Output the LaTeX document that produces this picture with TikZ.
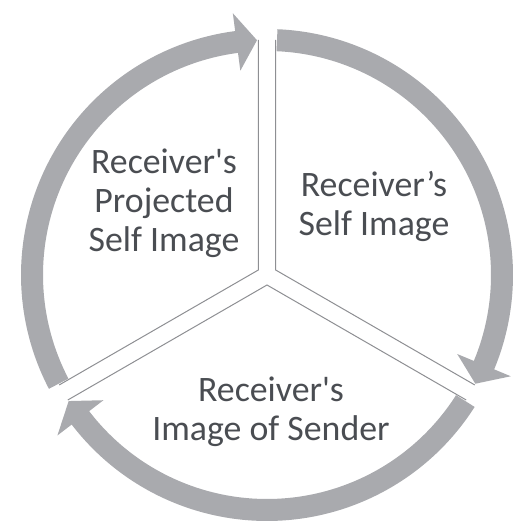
\documentclass[tikz,border=0pt]{standalone}
\usepackage{fontspec}
\setmainfont{Carlito}
\usetikzlibrary{calc}
\begin{document}
\begin{tikzpicture}[x=1pt,y=1pt,
  ringcol/.style={fill=ringgray},
  edgeline/.style={draw=edgegray,line width=1pt},
  label/.style={text=textgray,align=center,inner sep=0pt,
    font=\fontsize{35.8}{39}\selectfont}]
\definecolor{ringgray}{HTML}{A9AAAE}
\definecolor{edgegray}{HTML}{8E8F93}
\definecolor{textgray}{HTML}{4A4D52}
\useasboundingbox (0,0) rectangle (516,529);

% curved arrow segment of the ring, clockwise from #1 to #2 (degrees)
\newcommand\ringarrow[2]{%
  \pgfmathsetmacro\headbase{#2+5}%
  \fill[ringcol] (#1:246pt) arc[start angle=#1, end angle=\headbase, radius=246pt]
    -- (\headbase:264pt) -- (#2:235pt) -- (\headbase:206pt)
    -- (\headbase:224pt) arc[start angle=\headbase, end angle=#1, radius=224pt]
    -- cycle;}

\begin{scope}[shift={(267pt,254pt)}]
  % the three exploded wedges, outlined on their straight sides
  \coordinate (vl) at (150:10pt);
  \coordinate (vr) at (30:10pt);
  \coordinate (vb) at (270:10pt);
  \draw[edgeline] ($(vl)+(90:230pt)$) -- (vl) -- ($(vl)+(210:230pt)$);
  \draw[edgeline] ($(vr)+(90:230pt)$) -- (vr) -- ($(vr)+(-30:230pt)$);
  \draw[edgeline] ($(vb)+(210:230pt)$) -- (vb) -- ($(vb)+(-30:230pt)$);

  % ring of three arrows
  \ringarrow{207.56}{92.44}
  \ringarrow{87.56}{-27.56}
  \ringarrow{-32.44}{-147.56}
\end{scope}

\node[label] (proj) at (164,326) {Receiver\textquotesingle s\\Projected\\Self Image};
\node[label] (self) at (374,323) {Receiver’s\\Self Image};
\node[label] (send) at (271,117) {Receiver\textquotesingle s\\Image of Sender};
\end{tikzpicture}
\end{document}
